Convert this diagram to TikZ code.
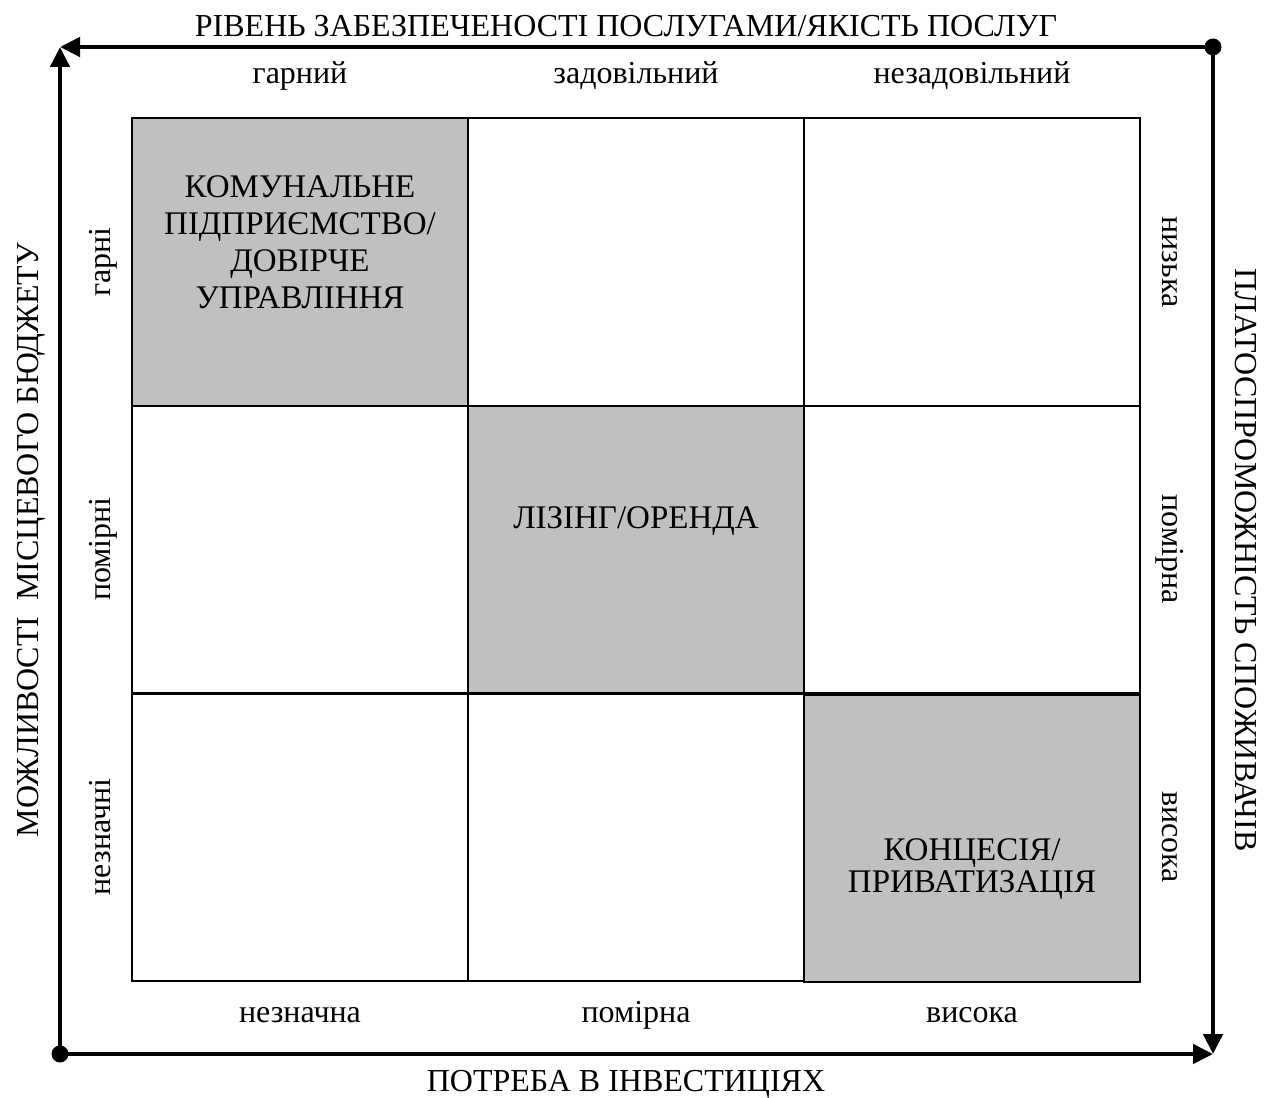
\documentclass[tikz,border=0pt]{standalone}
\usepackage{fontspec}
\setmainfont{Liberation Serif}
\usetikzlibrary{positioning, shapes.geometric, arrows.meta}
\definecolor{graycell}{RGB}{192,192,192}

\begin{document}
\begin{tikzpicture}[x=1pt, y=-1pt,
  cell/.style={rectangle, draw, line width=2pt, minimum width=336pt, minimum height=287pt, inner sep=0pt},
  shaded/.style={cell, fill=graycell},
  lbl/.style={font=\fontsize{32}{37}\selectfont, inner sep=0pt, align=center, anchor=base},
  big/.style={lbl, font=\fontsize{33}{37}\selectfont},
  axis/.style={line width=4.5pt, -{Triangle[length=20pt, width=19pt]}}]
  \useasboundingbox (0,0) rectangle (1268,1097);

  % the nine cells
  \draw (300,262)  node[shaded](c11) {};
  \draw (636,262)  node[cell](c12) {};
  \draw (972,262)  node[cell](c13) {};
  \draw (300,549)  node[cell](c21) {};
  \draw (636,549)  node[shaded](c22) {};
  \draw (972,549)  node[cell](c23) {};
  \draw (300,837)  node[cell](c31) {};
  \draw (636,837)  node[cell](c32) {};
  \draw (972,838)  node[shaded](c33) {};

  \draw (300,308)  node[big](t11) {КОМУНАЛЬНЕ\\ПІДПРИЄМСТВО/\\ДОВІРЧЕ\\УПРАВЛІННЯ};
  \draw (636,528)  node[big](t22) {ЛІЗІНГ/ОРЕНДА};
  \draw (972,892)  node[big, font=\fontsize{33}{32}\selectfont](t33) {КОНЦЕСІЯ/\\ПРИВАТИЗАЦІЯ};

  % frame with arrows
  \coordinate (tl) at (60,47);
  \coordinate (tr) at (1213,47);
  \coordinate (bl) at (60,1054);
  \coordinate (br) at (1213,1054);
  \draw[axis] (tr) -- (tl);
  \draw[axis] (tr) -- (br);
  \draw[axis] (bl) -- (tl);
  \draw[axis] (bl) -- (br);
  \fill (tr) circle (8.5);
  \fill (bl) circle (8.5);

  % column and row labels
  \draw (300,84)   node[lbl](q1) {гарний};
  \draw (636,84)   node[lbl](q2) {задовільний};
  \draw (972,84)   node[lbl](q3) {незадовільний};
  \draw (300,1022) node[lbl](n1) {незначна};
  \draw (636,1022) node[lbl](n2) {помірна};
  \draw (972,1022) node[lbl](n3) {висока};
  \draw (110,262)  node[lbl, rotate=90](b1) {гарні};
  \draw (110,549)  node[lbl, rotate=90](b2) {помірні};
  \draw (110,837)  node[lbl, rotate=90](b3) {незначні};
  \draw (1162,262) node[lbl, rotate=-90](p1) {низька};
  \draw (1162,549) node[lbl, rotate=-90](p2) {помірна};
  \draw (1162,837) node[lbl, rotate=-90](p3) {висока};

  % axis titles
  \draw (626,37)   node[lbl](top) {РІВЕНЬ ЗАБЕЗПЕЧЕНОСТІ ПОСЛУГАМИ/ЯКІСТЬ ПОСЛУГ};
  \draw (626,1091) node[lbl](bot) {ПОТРЕБА В ІНВЕСТИЦІЯХ};
  \draw (38,540)   node[lbl, rotate=90](lft) {МОЖЛИВОСТІ\ \ МІСЦЕВОГО БЮДЖЕТУ};
  \draw (1235,560) node[lbl, rotate=-90](rgt) {ПЛАТОСПРОМОЖНІСТЬ СПОЖИВАЧІВ};
\end{tikzpicture}
\end{document}
